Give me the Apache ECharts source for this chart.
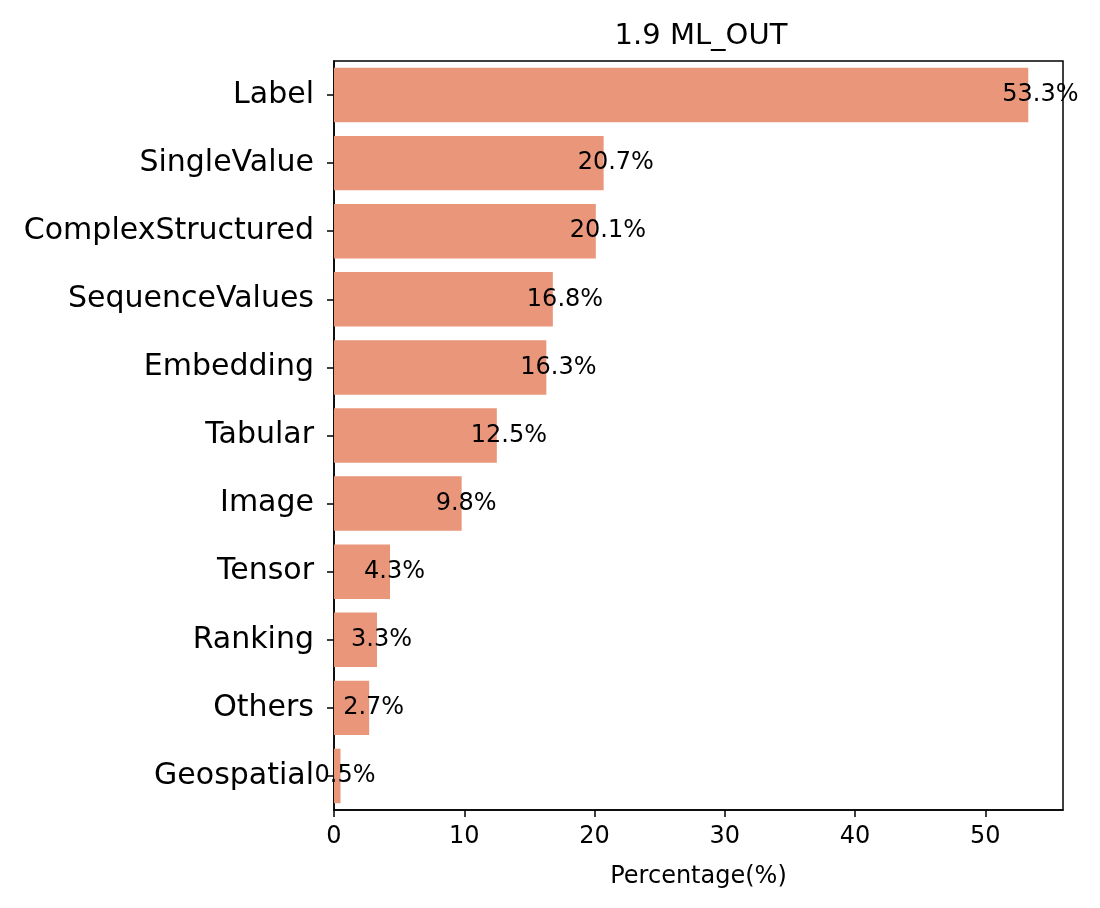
<!DOCTYPE html>
<html>
<head>
<meta charset="utf-8">
<script src="https://cdn.jsdelivr.net/npm/echarts@6/dist/echarts.min.js"></script>
<style>
html,body{margin:0;padding:0;background:#fff;}
#chart{width:1100px;height:908px;}
</style>
</head>
<body>
<div id="chart"></div>
<script>
const categories = ["Label","SingleValue","ComplexStructured","SequenceValues","Embedding","Tabular","Image","Tensor","Ranking","Others","Geospatial"];
const percentages = [53.3,20.7,20.1,16.8,16.3,12.5,9.8,4.3,3.3,2.7,0.5];
const xTickInterval = 10;
const xMax = 55.965;
const titleText = "1.9 ML_OUT";
const xAxisName = "Percentage(%)";

const FONT = "DejaVu Sans";
const chart = echarts.init(document.getElementById('chart'), null, {renderer:'canvas'});
chart.setOption({
  animation: false,
  backgroundColor: '#fff',
  title: {
    text: titleText,
    left: 696,
    textAlign: 'center',
    top: 17,
    textStyle: {fontFamily: FONT, fontSize: 29, fontWeight: 'normal', color: '#000'}
  },
  grid: {
    left: 334, right: 37, top: 61, bottom: 98,
    show: true, borderColor: '#000', borderWidth: 1.5, backgroundColor: 'transparent'
  },
  xAxis: {
    type: 'value',
    min: 0, max: xMax, interval: xTickInterval,
    name: xAxisName,
    nameLocation: 'middle',
    nameGap: 55,
    nameTextStyle: {fontFamily: FONT, fontSize: 24, color: '#000'},
    axisLine: {show: true, lineStyle: {color: '#000', width: 1.5}},
    axisTick: {show: true, length: 7, inside: false, lineStyle: {color: '#000', width: 1.5}},
    splitLine: {show: false},
    axisLabel: {fontFamily: FONT, fontSize: 24, color: '#000', margin: 15, showMaxLabel: false}
  },
  yAxis: {
    type: 'category',
    data: categories,
    inverse: true,
    axisLine: {show: true, lineStyle: {color: '#000', width: 1.5}},
    axisTick: {show: true, alignWithLabel: true, length: 7, lineStyle: {color: '#000', width: 1.5}},
    axisLabel: {fontFamily: FONT, fontSize: 30, color: '#000', margin: 20}
  },
  series: [{
    type: 'bar',
    data: percentages,
    barCategoryGap: '20%',
    itemStyle: {color: '#e9967a'},
    label: {
      show: true,
      position: 'right',
      distance: 0,
      offset: [-26, 0],
      formatter: p => p.value.toFixed(1) + '%',
      fontFamily: FONT, fontSize: 24, color: '#000'
    }
  }]
});
</script>
</body>
</html>
